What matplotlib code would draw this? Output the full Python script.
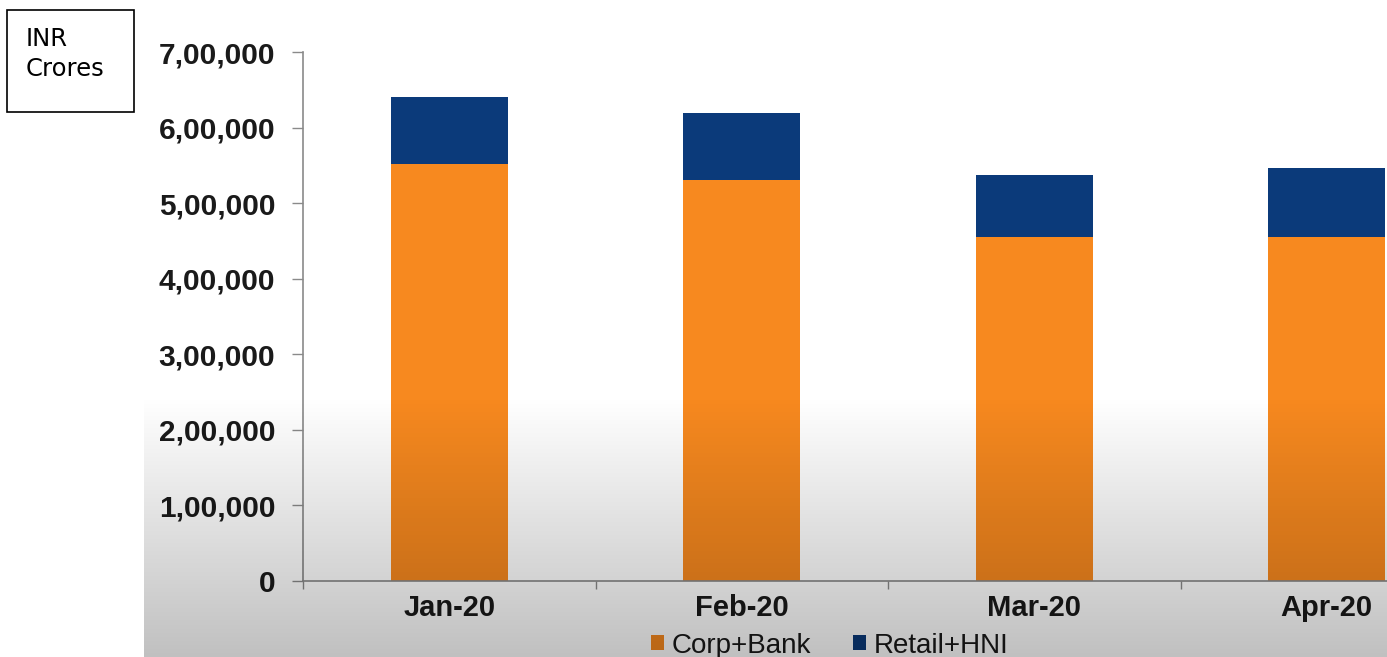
import numpy as np
import matplotlib
matplotlib.use("Agg")
import matplotlib.pyplot as plt
from matplotlib.ticker import FuncFormatter, FixedLocator
from matplotlib.patches import Rectangle

# data (INR crores)
months = ["Jan-20", "Feb-20", "Mar-20", "Apr-20"]
corp_bank = [551800, 530600, 455200, 455200]
retail_hni = [88700, 88700, 82100, 91300]
y_ticks = [0, 100000, 200000, 300000, 400000, 500000, 600000, 700000]

orange = "#f7891f"
navy = "#0b3a7a"

plt.rcParams["font.family"] = ["Liberation Sans", "DejaVu Sans"]


def indian_fmt(v, pos=None):
    v = int(round(v))
    s = str(v)
    if len(s) <= 3:
        return s
    last3 = s[-3:]
    rest = s[:-3]
    groups = []
    while len(rest) > 2:
        groups.insert(0, rest[-2:])
        rest = rest[:-2]
    if rest:
        groups.insert(0, rest)
    return ",".join(groups) + "," + last3


W, H = 1387, 657
fig = plt.figure(figsize=(W / 100, H / 100), dpi=100)
fig.patch.set_facecolor("white")

ax = fig.add_axes([303 / W, (H - 581) / H, 1170 / W, (581 - 52) / H])
ax.set_facecolor("none")

x = np.arange(len(months))
b1 = ax.bar(x, corp_bank, width=0.4, color=orange, label="Corp+Bank", zorder=2)
b2 = ax.bar(x, retail_hni, width=0.4, bottom=corp_bank, color=navy,
            label="Retail+HNI", zorder=2)

ax.set_xlim(-0.5, len(months) - 0.5)
ax.set_ylim(0, 700000)
ax.yaxis.set_major_locator(FixedLocator(y_ticks))
ax.yaxis.set_major_formatter(FuncFormatter(indian_fmt))
ax.set_xticks(x)
ax.set_xticklabels(months)
ax.set_xticks(np.arange(len(months) + 1) - 0.5, minor=True)

for s in ["top", "right"]:
    ax.spines[s].set_visible(False)
for s in ["left", "bottom"]:
    ax.spines[s].set_color("#8a8a8a")
    ax.spines[s].set_linewidth(1.2)

ax.tick_params(axis="y", length=8, width=1, color="#8a8a8a", pad=12,
               labelsize=21.5, labelcolor="#1a1a1a")
ax.tick_params(axis="x", which="major", length=0, pad=9, labelsize=21,
               labelcolor="#1a1a1a")
ax.tick_params(axis="x", which="minor", length=6, width=1, color="#8a8a8a")
for lbl in ax.get_yticklabels() + ax.get_xticklabels():
    lbl.set_fontweight("bold")

# legend at the bottom edge
fig.legend(handles=[b1, b2], labels=["Corp+Bank", "Retail+HNI"], loc="lower center",
           bbox_to_anchor=(830 / W, -21 / H), ncol=2, frameon=False, fontsize=20,
           handlelength=0.45, handleheight=0.45, handletextpad=0.3,
           columnspacing=1.5, labelcolor="#1a1a1a", borderpad=0.2)

# darkening gradient at the bottom of the video frame
ov = fig.add_axes([144 / W, 0, (W - 144) / W, (H - 395) / H], zorder=10)
alpha = np.linspace(0.25, 0.0, 200)[:, None]
rgba = np.zeros((200, 2, 4))
rgba[..., 3] = alpha
ov.imshow(rgba, aspect="auto", origin="lower", extent=[0, 1, 0, 1])
ov.axis("off")

# "INR Crores" box
fig.patches.append(Rectangle((7 / W, (H - 112) / H), 127 / W, 102 / H,
                             transform=fig.transFigure, fill=False,
                             edgecolor="black", linewidth=1.2))
fig.text(26 / W, (H - 27) / H, "INR\nCrores", ha="left", va="top",
         fontsize=17.5, family="DejaVu Sans", linespacing=1.3, color="black")

fig.savefig("out.png", dpi=100)
